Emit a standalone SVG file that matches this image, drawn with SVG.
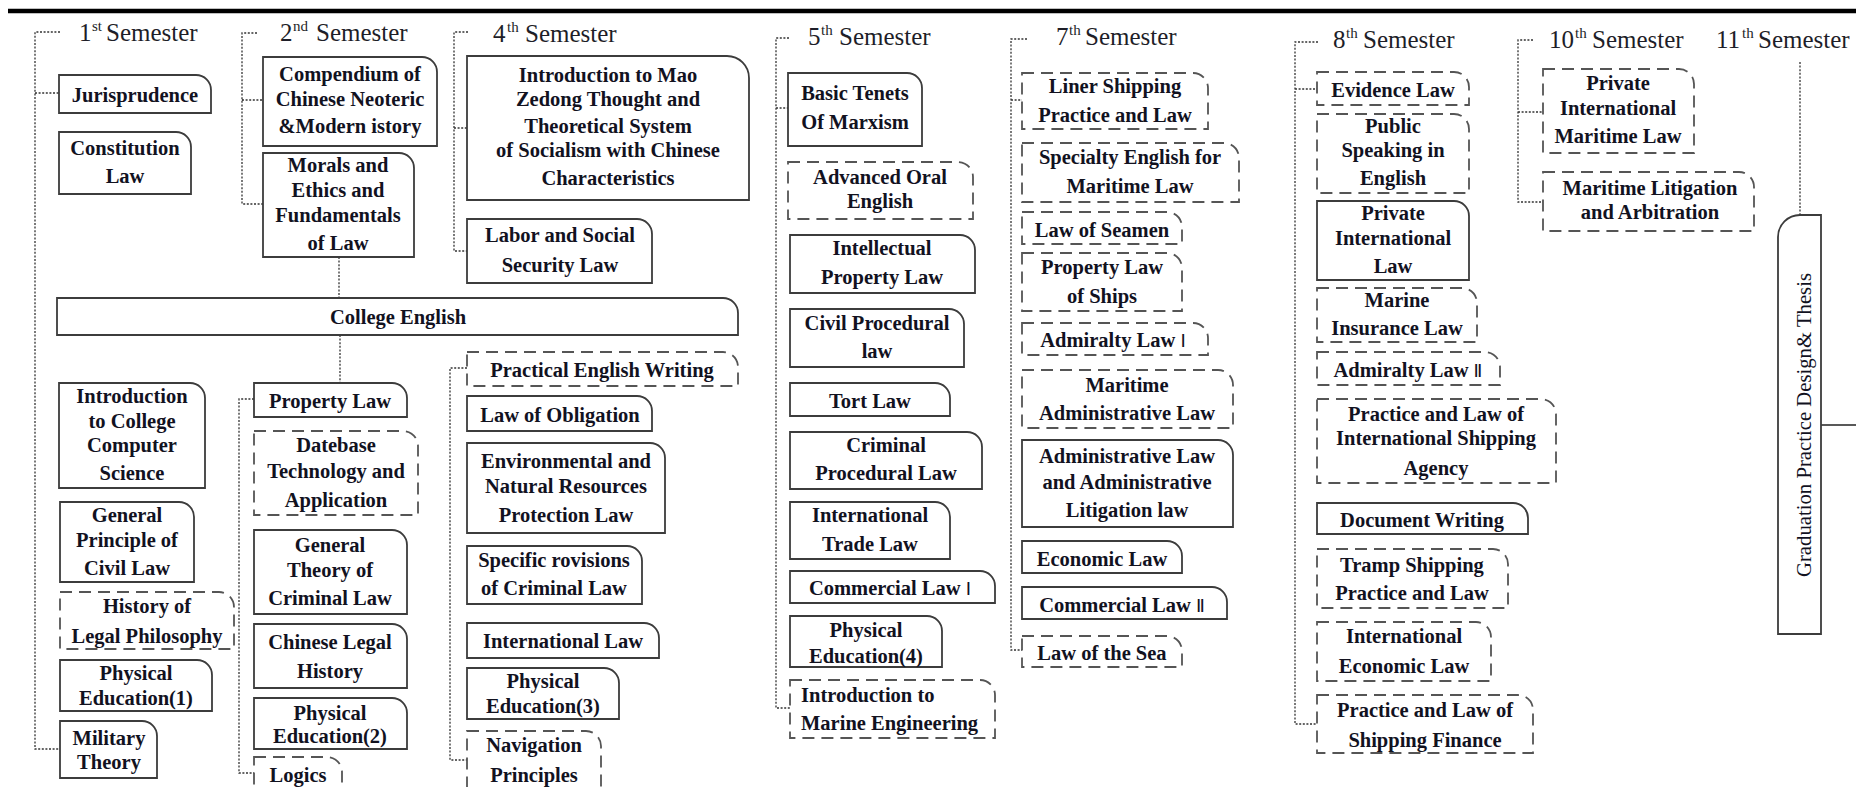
<svg xmlns="http://www.w3.org/2000/svg" width="1856" height="787" viewBox="0 0 1856 787">
<style>
.bx{fill:#fff;stroke:#3c3c3c;stroke-width:1.8}
.db{fill:#fff;stroke:#555;stroke-width:1.8;stroke-dasharray:12 7}
.t{font-family:"Liberation Serif","DejaVu Serif",serif;font-weight:bold;font-size:20.5px;fill:#12121f;text-anchor:middle}
.tl{font-family:"Liberation Serif","DejaVu Serif",serif;font-weight:bold;font-size:20.5px;fill:#12121f}
.rn{font-family:"DejaVu Sans",sans-serif;font-weight:normal;font-size:18px}
.sem{font-family:"Liberation Serif",serif;font-size:25px;fill:#1e1e28}
.sup{font-size:15px}
.cn{fill:none;stroke:#333;stroke-width:1.3;stroke-dasharray:2 1.6}
.ln{fill:none;stroke:#222;stroke-width:1.3}
</style>
<rect width="1856" height="787" fill="#fff"/>
<line x1="8" y1="11" x2="1856" y2="11" stroke="#000" stroke-width="4.5"/>

<g id="headings">
<text class="sem" y="41"><tspan x="79">1</tspan><tspan class="sup" x="92" dy="-10">st</tspan><tspan x="106" dy="10">Semester</tspan></text>
<text class="sem" y="41"><tspan x="280">2</tspan><tspan class="sup" x="293" dy="-10">nd</tspan><tspan x="316" dy="10">Semester</tspan></text>
<text class="sem" y="42"><tspan x="493">4</tspan><tspan class="sup" x="507" dy="-10">th</tspan><tspan x="525" dy="10">Semester</tspan></text>
<text class="sem" y="45"><tspan x="808">5</tspan><tspan class="sup" x="821" dy="-10">th</tspan><tspan x="839" dy="10">Semester</tspan></text>
<text class="sem" y="45"><tspan x="1056">7</tspan><tspan class="sup" x="1069" dy="-10">th</tspan><tspan x="1085" dy="10">Semester</tspan></text>
<text class="sem" y="48"><tspan x="1333">8</tspan><tspan class="sup" x="1346" dy="-10">th</tspan><tspan x="1363" dy="10">Semester</tspan></text>
<text class="sem" y="48"><tspan x="1549">10</tspan><tspan class="sup" x="1575" dy="-10">th</tspan><tspan x="1592" dy="10">Semester</tspan></text>
<text class="sem" y="48"><tspan x="1716">11</tspan><tspan class="sup" x="1742" dy="-10">th</tspan><tspan x="1758" dy="10">Semester</tspan></text>
</g>

<g id="connectors">
<path class="cn" d="M60 32H35V749H59M35 93H59"/>
<path class="cn" d="M257 33H242V204H263M242 100H263"/>
<path class="cn" d="M254 399H239V773H254"/>
<path class="cn" d="M468 32H454V251H467M454 128H467"/>
<path class="cn" d="M467 368H450V760H467"/>
<path class="cn" d="M789 38H776V708H790M776 108H788"/>
<path class="cn" d="M1027 39H1011V650H1022M1011 100H1022"/>
<path class="cn" d="M1318 42H1295V724H1317M1295 89H1317"/>
<path class="cn" d="M1533 40H1518V202H1543M1518 112H1543"/>
<path class="cn" d="M1800 62V215"/>
<path class="cn" d="M339 257V298"/>
<path class="cn" d="M340 335V383"/>
<path class="ln" d="M1821 425H1856"/>
</g>

<g id="jurisprudence"><path class="bx" d="M59 75H196A15 15 0 0 1 211 90V113H59Z"/><text class="t" x="135" y="102">Jurisprudence</text></g>
<g id="constitution-law"><path class="bx" d="M59 132H176A15 15 0 0 1 191 147V194H59Z"/><text class="t" x="125"><tspan x="125" y="155">Constitution</tspan><tspan x="125" y="183">Law</tspan></text></g>
<g id="intro-computer"><path class="bx" d="M59 383H190A15 15 0 0 1 205 398V488H59Z"/><text class="t"><tspan x="132" y="403">Introduction</tspan><tspan x="132" y="428">to College</tspan><tspan x="132" y="452">Computer</tspan><tspan x="132" y="480">Science</tspan></text></g>
<g id="civil-law-principle"><path class="bx" d="M60 502H179A15 15 0 0 1 194 517V582H60Z"/><text class="t"><tspan x="127" y="522">General</tspan><tspan x="127" y="547">Principle of</tspan><tspan x="127" y="575">Civil Law</tspan></text></g>
<g id="legal-philosophy"><path class="db" d="M60 592H219A15 15 0 0 1 234 607V649H60Z"/><text class="t"><tspan x="147" y="613">History of</tspan><tspan x="147" y="643">Legal Philosophy</tspan></text></g>
<g id="pe1"><path class="bx" d="M60 660H197A15 15 0 0 1 212 675V711H60Z"/><text class="t"><tspan x="136" y="680">Physical</tspan><tspan x="136" y="705">Education(1)</tspan></text></g>
<g id="military-theory"><path class="bx" d="M60 721H142A15 15 0 0 1 157 736V778H60Z"/><text class="t"><tspan x="109" y="745">Military</tspan><tspan x="109" y="769">Theory</tspan></text></g>

<g id="compendium"><path class="bx" d="M263 57H422A15 15 0 0 1 437 72V146H263Z"/><text class="t"><tspan x="350" y="81">Compendium of</tspan><tspan x="350" y="106">Chinese Neoteric</tspan><tspan x="350" y="133">&amp;Modern istory</tspan></text></g>
<g id="morals"><path class="bx" d="M263 153H399A15 15 0 0 1 414 168V257H263Z"/><text class="t"><tspan x="338" y="172">Morals and</tspan><tspan x="338" y="197">Ethics and</tspan><tspan x="338" y="222">Fundamentals</tspan><tspan x="338" y="250">of Law</tspan></text></g>
<g id="college-english"><path class="bx" d="M57 298H723A15 15 0 0 1 738 313V335H57Z"/><text class="t" x="398" y="324">College English</text></g>
<g id="property-law"><path class="bx" d="M254 383H392A15 15 0 0 1 407 398V417H254Z"/><text class="t" x="330" y="408">Property Law</text></g>
<g id="database"><path class="db" d="M254 431H403A15 15 0 0 1 418 446V515H254Z"/><text class="t"><tspan x="336" y="452">Datebase</tspan><tspan x="336" y="478">Technology and</tspan><tspan x="336" y="507">Application</tspan></text></g>
<g id="criminal-theory"><path class="bx" d="M254 530H392A15 15 0 0 1 407 545V614H254Z"/><text class="t"><tspan x="330" y="552">General</tspan><tspan x="330" y="577">Theory of</tspan><tspan x="330" y="605">Criminal Law</tspan></text></g>
<g id="legal-history"><path class="bx" d="M254 624H392A15 15 0 0 1 407 639V688H254Z"/><text class="t"><tspan x="330" y="649">Chinese Legal</tspan><tspan x="330" y="678">History</tspan></text></g>
<g id="pe2"><path class="bx" d="M254 698H392A15 15 0 0 1 407 713V749H254Z"/><text class="t"><tspan x="330" y="720">Physical</tspan><tspan x="330" y="743">Education(2)</tspan></text></g>
<g id="logics"><path class="db" d="M254 757H327A15 15 0 0 1 342 772V800H254Z"/><text class="t" x="298" y="782">Logics</text></g>

<g id="mao-thought"><path class="bx" d="M467 56H727A22 22 0 0 1 749 78V200H467Z"/><text class="t"><tspan x="608" y="82">Introduction to Mao</tspan><tspan x="608" y="106">Zedong Thought and</tspan><tspan x="608" y="133">Theoretical System</tspan><tspan x="608" y="157">of Socialism with Chinese</tspan><tspan x="608" y="185">Characteristics</tspan></text></g>
<g id="labor-law"><path class="bx" d="M467 219H637A15 15 0 0 1 652 234V283H467Z"/><text class="t"><tspan x="560" y="242">Labor and Social</tspan><tspan x="560" y="272">Security Law</tspan></text></g>
<g id="english-writing"><path class="db" d="M467 352H723A15 15 0 0 1 738 367V386H467Z"/><text class="t" x="602" y="377">Practical English Writing</text></g>
<g id="obligation"><path class="bx" d="M467 396H637A15 15 0 0 1 652 411V431H467Z"/><text class="t" x="560" y="422">Law of Obligation</text></g>
<g id="environmental"><path class="bx" d="M467 443H650A15 15 0 0 1 665 458V533H467Z"/><text class="t"><tspan x="566" y="468">Environmental and</tspan><tspan x="566" y="493">Natural Resources</tspan><tspan x="566" y="522">Protection Law</tspan></text></g>
<g id="criminal-specific"><path class="bx" d="M467 546H627A15 15 0 0 1 642 561V604H467Z"/><text class="t"><tspan x="554" y="567">Specific rovisions</tspan><tspan x="554" y="595">of Criminal Law</tspan></text></g>
<g id="international-law"><path class="bx" d="M467 623H644A15 15 0 0 1 659 638V658H467Z"/><text class="t" x="563" y="648">International Law</text></g>
<g id="pe3"><path class="bx" d="M467 668H604A15 15 0 0 1 619 683V719H467Z"/><text class="t"><tspan x="543" y="688">Physical</tspan><tspan x="543" y="713">Education(3)</tspan></text></g>
<g id="navigation"><path class="db" d="M467 731H586A15 15 0 0 1 601 746V800H467Z"/><text class="t"><tspan x="534" y="752">Navigation</tspan><tspan x="534" y="782">Principles</tspan></text></g>

<g id="marxism"><path class="bx" d="M788 73H907A15 15 0 0 1 922 88V146H788Z"/><text class="t"><tspan x="855" y="100">Basic Tenets</tspan><tspan x="855" y="129">Of Marxism</tspan></text></g>
<g id="oral-english"><path class="db" d="M788 162H958A15 15 0 0 1 973 177V219H788Z"/><text class="t"><tspan x="880" y="184">Advanced Oral</tspan><tspan x="880" y="208">English</tspan></text></g>
<g id="ip-law"><path class="bx" d="M790 235H960A15 15 0 0 1 975 250V293H790Z"/><text class="t"><tspan x="882" y="255">Intellectual</tspan><tspan x="882" y="284">Property Law</tspan></text></g>
<g id="civil-procedural"><path class="bx" d="M790 309H949A15 15 0 0 1 964 324V367H790Z"/><text class="t"><tspan x="877" y="330">Civil Procedural</tspan><tspan x="877" y="358">law</tspan></text></g>
<g id="tort-law"><path class="bx" d="M790 383H935A15 15 0 0 1 950 398V416H790Z"/><text class="t" x="870" y="408">Tort Law</text></g>
<g id="criminal-procedural"><path class="bx" d="M790 432H967A15 15 0 0 1 982 447V489H790Z"/><text class="t"><tspan x="886" y="452">Criminal</tspan><tspan x="886" y="480">Procedural Law</tspan></text></g>
<g id="trade-law"><path class="bx" d="M790 502H935A15 15 0 0 1 950 517V559H790Z"/><text class="t"><tspan x="870" y="522">International</tspan><tspan x="870" y="551">Trade Law</tspan></text></g>
<g id="commercial-1"><path class="bx" d="M790 571H980A15 15 0 0 1 995 586V603H790Z"/><text class="t" x="890" y="595">Commercial Law <tspan class="rn">Ⅰ</tspan></text></g>
<g id="pe4"><path class="bx" d="M790 616H927A15 15 0 0 1 942 631V667H790Z"/><text class="t"><tspan x="866" y="637">Physical</tspan><tspan x="866" y="663">Education(4)</tspan></text></g>
<g id="marine-engineering"><path class="db" d="M790 680H980A15 15 0 0 1 995 695V738H790Z"/><text class="tl"><tspan x="801" y="702">Introduction to</tspan><tspan x="801" y="730">Marine Engineering</tspan></text></g>

<g id="liner-shipping"><path class="db" d="M1022 73H1193A15 15 0 0 1 1208 88V129H1022Z"/><text class="t"><tspan x="1115" y="93">Liner Shipping</tspan><tspan x="1115" y="122">Practice and Law</tspan></text></g>
<g id="specialty-english"><path class="db" d="M1022 143H1224A15 15 0 0 1 1239 158V202H1022Z"/><text class="t"><tspan x="1130" y="164">Specialty English for</tspan><tspan x="1130" y="193">Maritime Law</tspan></text></g>
<g id="seamen"><path class="db" d="M1022 212H1167A15 15 0 0 1 1182 227V244H1022Z"/><text class="t" x="1102" y="237">Law of Seamen</text></g>
<g id="ship-property"><path class="db" d="M1022 253H1167A15 15 0 0 1 1182 268V311H1022Z"/><text class="t"><tspan x="1102" y="274">Property Law</tspan><tspan x="1102" y="303">of Ships</tspan></text></g>
<g id="admiralty-1"><path class="db" d="M1022 323H1193A15 15 0 0 1 1208 338V355H1022Z"/><text class="t" x="1113" y="347">Admiralty Law <tspan class="rn">Ⅰ</tspan></text></g>
<g id="maritime-admin"><path class="db" d="M1022 370H1218A15 15 0 0 1 1233 385V428H1022Z"/><text class="t"><tspan x="1127" y="392">Maritime</tspan><tspan x="1127" y="420">Administrative Law</tspan></text></g>
<g id="admin-law"><path class="bx" d="M1022 440H1218A15 15 0 0 1 1233 455V527H1022Z"/><text class="t"><tspan x="1127" y="463">Administrative Law</tspan><tspan x="1127" y="489">and Administrative</tspan><tspan x="1127" y="517">Litigation law</tspan></text></g>
<g id="economic-law"><path class="bx" d="M1022 541H1167A15 15 0 0 1 1182 556V573H1022Z"/><text class="t" x="1102" y="566">Economic Law</text></g>
<g id="commercial-2"><path class="bx" d="M1022 587H1212A15 15 0 0 1 1227 602V619H1022Z"/><text class="t" x="1122" y="612">Commercial Law <tspan class="rn">Ⅱ</tspan></text></g>
<g id="law-of-sea"><path class="db" d="M1022 636H1167A15 15 0 0 1 1182 651V667H1022Z"/><text class="t" x="1102" y="660">Law of the Sea</text></g>

<g id="evidence-law"><path class="db" d="M1317 72H1454A15 15 0 0 1 1469 87V105H1317Z"/><text class="t" x="1393" y="97">Evidence Law</text></g>
<g id="public-speaking"><path class="db" d="M1317 114H1454A15 15 0 0 1 1469 129V193H1317Z"/><text class="t"><tspan x="1393" y="133">Public</tspan><tspan x="1393" y="157">Speaking in</tspan><tspan x="1393" y="185">English</tspan></text></g>
<g id="private-intl-law"><path class="bx" d="M1317 201H1454A15 15 0 0 1 1469 216V280H1317Z"/><text class="t"><tspan x="1393" y="220">Private</tspan><tspan x="1393" y="245">International</tspan><tspan x="1393" y="273">Law</tspan></text></g>
<g id="marine-insurance"><path class="db" d="M1317 288H1462A15 15 0 0 1 1477 303V342H1317Z"/><text class="t"><tspan x="1397" y="307">Marine</tspan><tspan x="1397" y="335">Insurance Law</tspan></text></g>
<g id="admiralty-2"><path class="db" d="M1317 352H1485A15 15 0 0 1 1500 367V385H1317Z"/><text class="t" x="1408" y="377">Admiralty Law <tspan class="rn">Ⅱ</tspan></text></g>
<g id="shipping-agency"><path class="db" d="M1317 399H1541A15 15 0 0 1 1556 414V483H1317Z"/><text class="t"><tspan x="1436" y="421">Practice and Law of</tspan><tspan x="1436" y="445">International Shipping</tspan><tspan x="1436" y="475">Agency</tspan></text></g>
<g id="document-writing"><path class="bx" d="M1317 503H1513A15 15 0 0 1 1528 518V534H1317Z"/><text class="t" x="1422" y="527">Document Writing</text></g>
<g id="tramp-shipping"><path class="db" d="M1317 549H1493A15 15 0 0 1 1508 564V608H1317Z"/><text class="t"><tspan x="1412" y="572">Tramp Shipping</tspan><tspan x="1412" y="600">Practice and Law</tspan></text></g>
<g id="intl-economic"><path class="db" d="M1317 622H1476A15 15 0 0 1 1491 637V681H1317Z"/><text class="t"><tspan x="1404" y="643">International</tspan><tspan x="1404" y="673">Economic Law</tspan></text></g>
<g id="shipping-finance"><path class="db" d="M1317 695H1518A15 15 0 0 1 1533 710V753H1317Z"/><text class="t"><tspan x="1425" y="717">Practice and Law of</tspan><tspan x="1425" y="747">Shipping Finance</tspan></text></g>

<g id="private-maritime"><path class="db" d="M1543 69H1679A15 15 0 0 1 1694 84V153H1543Z"/><text class="t"><tspan x="1618" y="90">Private</tspan><tspan x="1618" y="115">International</tspan><tspan x="1618" y="143">Maritime Law</tspan></text></g>
<g id="litigation"><path class="db" d="M1543 172H1739A15 15 0 0 1 1754 187V231H1543Z"/><text class="t"><tspan x="1650" y="195">Maritime Litigation</tspan><tspan x="1650" y="219">and Arbitration</tspan></text></g>

<g id="graduation"><path class="bx" d="M1778 237A22 22 0 0 1 1800 215H1821V634H1778Z"/><text transform="translate(1811 425) rotate(-90)" font-family="Liberation Serif, serif" font-size="22" fill="#12121f" text-anchor="middle" textLength="304" lengthAdjust="spacingAndGlyphs">Graduation Practice Design&amp; Thesis</text></g>
</svg>
